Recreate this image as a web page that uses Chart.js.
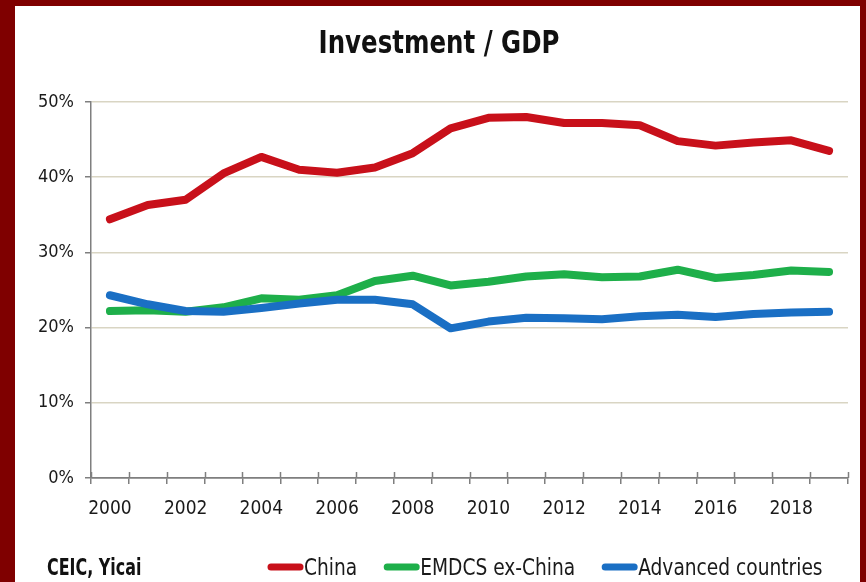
<!DOCTYPE html>
<html>
<head>
<meta charset="utf-8">
<script src="https://cdn.jsdelivr.net/npm/chart.js@4.4.1/dist/chart.umd.min.js"></script>
<style>
  html, body { margin: 0; padding: 0; width: 866px; height: 582px; background: #7F0000; overflow: hidden; }
  #panel { position: absolute; left: 15px; top: 6px; width: 845px; height: 576px; background: #ffffff; }
  #wrap { position: absolute; left: 0; top: 0; width: 866px; height: 582px; }
</style>
</head>
<body>
<div id="panel"></div>
<div id="wrap"><canvas id="c" width="866" height="582"></canvas></div>
<script>
const TITLE = 'Investment / GDP';
const SOURCE = 'CEIC, Yicai';
const years = ['2000','2001','2002','2003','2004','2005','2006','2007','2008','2009','2010','2011','2012','2013','2014','2015','2016','2017','2018','2019'];
const seriesNames = ['China', 'EMDCS ex-China', 'Advanced countries'];
const china = [34.4, 36.3, 37.0, 40.5, 42.7, 41.0, 40.6, 41.3, 43.2, 46.5, 47.9, 48.0, 47.2, 47.2, 46.9, 44.8, 44.2, 44.6, 44.9, 43.5];
const emdcs = [22.2, 22.3, 22.1, 22.7, 23.9, 23.7, 24.3, 26.2, 26.9, 25.6, 26.1, 26.8, 27.1, 26.7, 26.8, 27.7, 26.6, 27.0, 27.6, 27.4];
const advanced = [24.3, 23.1, 22.2, 22.1, 22.6, 23.2, 23.7, 23.7, 23.1, 19.9, 20.8, 21.3, 21.25, 21.1, 21.5, 21.7, 21.4, 21.8, 22.0, 22.1];
const yTicks = [0, 10, 20, 30, 40, 50];
const colors = ['#C8101A', '#1EAF4A', '#1A6FC4'];

const FONT = "'Liberation Sans Narrow', 'DejaVu Sans Condensed', 'Arial Narrow', sans-serif";
Chart.defaults.font.family = FONT;
Chart.defaults.color = '#1a1a1a';

const AXIS = '#7F7F7F';
const GRID = '#D9D5C3';

function squeezeText(ctx, text, x, y, sx, align) {
  ctx.save();
  const w = ctx.measureText(text).width * sx;
  let x0 = x;
  if (align === 'center') x0 = x - w / 2;
  ctx.translate(x0, y);
  ctx.scale(sx, 1);
  ctx.textAlign = 'left';
  ctx.fillText(text, 0, 0);
  ctx.restore();
  return w;
}

const decor = {
  id: 'decor',
  afterDatasetsDraw(chart) {
    const ctx = chart.ctx;
    const xs = chart.scales.x;
    const area = chart.chartArea;
    ctx.save();
    ctx.strokeStyle = AXIS;
    ctx.lineWidth = 1.5;
    const half = (xs.getPixelForValue(1) - xs.getPixelForValue(0)) / 2;
    for (let i = 0; i <= years.length; i++) {
      const x = Math.round(xs.getPixelForValue(i) - half) + 0.5;
      ctx.beginPath();
      ctx.moveTo(x, area.bottom);
      ctx.lineTo(x, area.bottom - 6);
      ctx.stroke();
    }
    ctx.restore();
  },
  afterDraw(chart) {
    const ctx = chart.ctx;
    ctx.save();
    ctx.fillStyle = '#111';
    ctx.textBaseline = 'alphabetic';
    ctx.font = "bold 32px " + FONT;
    squeezeText(ctx, TITLE, 439, 53, 0.85, 'center');
    ctx.font = "bold 23px " + FONT;
    squeezeText(ctx, SOURCE, 47, 575, 0.77, 'left');
    ctx.font = "23px " + FONT;
    let x = 268;
    chart.data.datasets.forEach((ds) => {
      ctx.strokeStyle = ds.borderColor;
      ctx.lineWidth = 7;
      ctx.lineCap = 'round';
      ctx.beginPath();
      ctx.moveTo(x + 3, 567);
      ctx.lineTo(x + 32, 567);
      ctx.stroke();
      ctx.fillStyle = '#1a1a1a';
      const w = squeezeText(ctx, ds.label, x + 36, 575, 0.9, 'left');
      x = x + 36 + w + 27;
    });
    ctx.restore();
  }
};

function mk(label, data, color, order) {
  return {
    label, data, borderColor: color, backgroundColor: color,
    borderWidth: 8, pointRadius: 0, tension: 0, fill: false,
    borderCapStyle: 'round', borderJoinStyle: 'round', order
  };
}

new Chart(document.getElementById('c'), {
  type: 'line',
  data: {
    labels: years,
    datasets: [
      mk(seriesNames[0], china, colors[0], 0),
      mk(seriesNames[1], emdcs, colors[1], 2),
      mk(seriesNames[2], advanced, colors[2], 1)
    ]
  },
  plugins: [decor],
  options: {
    responsive: false,
    animation: false,
    events: [],
    layout: { padding: { left: 0, right: 18, top: 102, bottom: 44 } },
    plugins: { legend: { display: false }, title: { display: false }, tooltip: { enabled: false } },
    scales: {
      x: {
        type: 'category',
        offset: true,
        grid: { display: true, offset: true, drawOnChartArea: false, drawTicks: true, tickLength: 6, color: AXIS, lineWidth: 1.5 },
        border: { display: true, color: AXIS, width: 1.5 },
        ticks: {
          autoSkip: false, maxRotation: 0, minRotation: 0, padding: 14,
          font: { size: 19 }, color: '#1a1a1a',
          callback: function(v, i) { return (i % 2 === 0) ? years[i] : ''; }
        },
        afterFit(scale) { scale.height = 60; }
      },
      y: {
        min: 0, max: 50,
        afterBuildTicks(scale) { scale.ticks = yTicks.map(v => ({ value: v })); },
        grid: {
          drawTicks: true, tickLength: 6, lineWidth: 1.5,
          color: (c) => c.tick && c.tick.value === 0 ? AXIS : GRID,
          tickColor: AXIS
        },
        border: { display: true, color: AXIS, width: 1.5 },
        ticks: { padding: 11, font: { size: 18 }, color: '#1a1a1a', callback: (v) => v + '%' },
        afterFit(scale) { scale.width = 91; }
      }
    }
  }
});
</script>
</body>
</html>
